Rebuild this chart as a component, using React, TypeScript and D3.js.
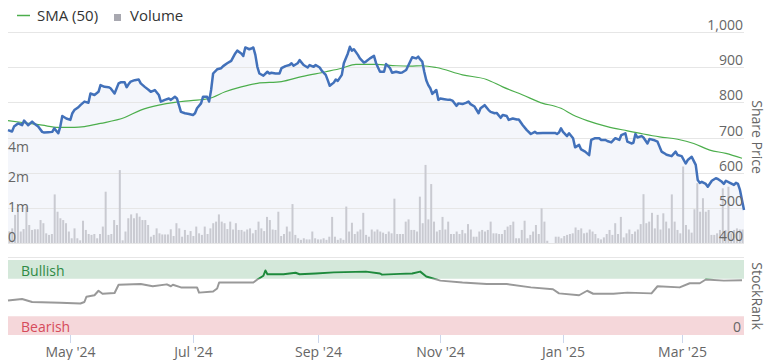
import React from "react";
import * as d3 from "d3";

// ---------- DATA ----------
// day offsets counted from 31 Mar 2024
const priceDays = [0,2,3,5,7,8,10,12,13,15,17,18,20,22,23,25,26,27,29,31,32,33,35,36,38,40,41,43,45,46,48,50,51,53,55,56,58,59,60,61,63,65,66,68,70,71,73,75,76,78,80,81,83,84,85,86,88,90,92,93,94,96,97,99,100,101,102,104,106,107,109,111,113,114,116,117,118,120,121,122,123,124,125,127,129,130,131,133,135,136,138,140,141,142,144,145,147,149,150,152,153,155,156,158,159,160,162,163,164,166,167,169,170,171,172,174,175,177,178,180,182,183,184,185,187,188,190,191,193,195,196,198,200,201,203,204,205,206,207,208,209,210,211,213,214,215,217,219,220,221,223,224,226,228,229,230,232,234,235,237,239,240,242,243,245,246,248,249,251,253,254,256,258,260,262,263,266,269,272,273,274,275,276,278,279,281,282,284,285,287,289,290,292,294,295,297,298,300,302,304,305,307,308,310,311,312,313,315,316,318,319,321,323,324,325,327,328,330,332,333,335,337,338,340,342,343,344,345,347,348,350,352,353,355,356,357,359,361,362,363,364,365,366];
const priceValues = [721,717,731,740,735,748,735,745,740,731,716,714,715,716,726,712,731,761,754,750,769,778,786,792,802,799,825,821,830,849,844,843,840,825,854,857,857,843,852,859,863,865,854,844,835,830,835,821,802,807,811,807,816,811,792,773,769,767,764,769,783,797,816,816,802,835,882,894,897,903,911,918,939,947,939,932,956,951,953,956,935,901,882,876,887,882,884,882,882,897,903,906,911,904,911,920,906,899,906,901,906,899,890,878,863,847,856,865,861,878,911,939,958,947,951,935,925,913,916,925,932,912,899,887,887,909,897,884,887,884,885,892,916,928,925,930,922,916,887,863,849,840,824,835,807,811,809,807,807,805,790,797,795,799,802,795,788,769,783,792,778,773,769,770,756,764,761,750,754,751,751,735,721,710,716,712,713,713,713,710,714,726,716,704,712,698,672,679,666,660,650,693,698,698,693,693,690,686,698,693,707,712,688,683,685,710,700,704,700,683,696,693,688,674,660,653,650,647,660,650,647,626,636,645,622,579,571,574,568,560,577,584,582,574,568,577,571,565,571,568,551,522,494];

const smaDays = [0,8,17,25,33,38,46,58,66,75,83,91,100,108,116,124,136,146,158,166,173,183,193,200,206,213,226,238,246,256,266,272,275,281,288,298,308,316,324,333,341,349,357,365];
const smaValues = [748,742,735,729,729,731,740,757,778,792,800,805,811,830,844,854,859,873,887,897,908,908,904,903,904,899,878,865,844,821,797,789,783,764,748,731,719,710,702,695,683,664,655,641];

const rankDays = [0,7,12,26,36,38,39,43,45,47,53,55,66,72,79,81,82,86,94,95,102,104,105,112,117,122,124,127,128,129,137,143,145,153,162,178,185,186,195,201,205,208,215,226,238,248,260,271,274,284,288,291,301,308,320,323,334,339,344,347,356,365];
const rankValues = [46,48,44,43,42,44,51,53,59,55,56,67,68,65,67.5,65,67,63.5,63.5,56.5,58,62,70,70,70,70,74,79,86,81,81,83,81,82,83.5,84.5,82,80.5,81.5,82,84.5,78,72.5,70,68,68,63.5,61,55.5,53,59,55,55,56.5,55.5,65,63.5,69,69,74,72.5,73];

// daily volume, millions of shares
const volumeValues = [
0.52,0.65,1.25,1.5,0.51,0.62,1.62,0.8,0.58,0.61,0.61,1.02,0.88,0.43,0.36,0.4,2.16,1.39,1.1,1.02,0.88,0.51,0.21,0.65,0.21,0.12,0.99,0.58,0.4,0.36,0.4,0.21,0.4,0.73,2.28,0.36,0.4,1.02,0.8,3.24,0.12,0.51,1.1,1.27,1.1,1.32,1.17,1.02,1.02,0.8,0.28,0.36,0.65,0.43,0.38,0.38,0.38,0.61,0.31,0.88,0.65,0.28,0.58,0.36,0.53,0.31,0.73,0.43,
0.36,0.73,0.4,0.65,0.88,0.95,1.27,0.95,0.88,0.62,0.95,0.6,0.88,0.58,0.58,0.51,0.6,0.65,0.43,0.58,0.95,0.65,0.53,1.16,1.02,0.6,0.58,1.39,0.31,0.4,0.73,0.51,1.73,0.36,0.21,0.14,0.21,0.16,0.16,0.51,0.21,0.16,0.16,0.21,0.14,0.28,1.16,0.28,0.14,0.21,0.14,1.62,0.51,0.9,0.4,0.51,0.6,1.34,0.36,0.28,0.6,0.51,0.6,
0.51,0.46,0.4,0.51,0.43,1.97,0.4,0.4,0.4,0.95,1.05,0.58,0.58,0.51,2.06,0.88,3.47,1.05,2.62,0.95,0.51,0.58,1.16,0.6,0.95,0.4,0.4,0.51,0.4,0.58,0.43,0.84,0.6,0.28,0.28,0.51,0.58,0.51,0.58,0.95,0.43,0.43,0.4,0.4,0.58,0.73,0.8,0.95,0.21,0.21,0.58,0.99,0.21,0.36,0.51,0.8,0.4,1.54,0.95,0.1,0,0,0.28,0.28,
0.21,0.31,0.36,0.4,0.43,0.69,0.58,0.65,0.43,0.46,0.6,0.51,0.4,0.21,0.16,0.25,0.4,0.58,0.36,0.88,0.4,1.16,0.25,0.43,0.6,0.4,0.51,0.6,0.84,2.17,0.88,0.95,1.34,0.65,1.25,0.6,1.32,0.95,0.65,2.16,0.95,0.58,0.43,3.4,0.8,0.6,0.46,1.5,2.66,1.39,1.99,1.39,1.47,0.36,0.36,0.43,0.58,2.43,0.58,2.5,0.43,0.58,0.65,0.6,0.6
];

const priceTicks = [400, 500, 600, 700, 800, 900, 1000];
const volumeTicks = [0, 4 / 3, 8 / 3, 4];
const volumeTickLabels = ["0", "1m", "2m", "4m"];
const xTickDates = ["2024-05-01", "2024-07-01", "2024-09-01", "2024-11-01", "2025-01-01", "2025-03-01"];
const xTickLabels = ["May '24", "Jul '24", "Sep '24", "Nov '24", "Jan '25", "Mar '25"];

// ---------- CHART ----------
const W = 772;
const H = 360;
const START = new Date(2024, 2, 31);
const dayDate = (d: number) => d3.timeDay.offset(START, d);
const parseDate = (s: string) => {
  const [y, m, d] = s.split("-").map(Number);
  return new Date(y, m - 1, d);
};

const FONT = "'Open Sans', 'Noto Sans', sans-serif";
const L = 8, R = 744;

export default function App() {
  const x = d3.scaleTime().domain([START, new Date(2025, 3, 1)]).range([L, R]);
  const xIdx = d3.scaleLinear().domain([0, volumeValues.length]).range([L, R]);
  const py = d3.scaleLinear().domain([400, 1000]).range([243, 32]);
  const vy = d3.scaleLinear().domain([0, 4]).range([243, 153]);
  const ry = d3.scaleLinear().domain([0, 100]).range([335, 260]);

  const price = priceDays.map((d, i) => ({ t: dayDate(d), v: priceValues[i] }));
  const sma = smaDays.map((d, i) => ({ t: dayDate(d), v: smaValues[i] }));
  const rank = rankDays.map((d, i) => ({ t: dayDate(d), v: rankValues[i] }));

  const priceLine = d3.line<any>().x(p => x(p.t)).y(p => py(p.v));
  const priceArea = d3.area<any>().x(p => x(p.t)).y0(py(400)).y1(p => py(p.v));
  const smaLine = d3.line<any>().x(p => x(p.t)).y(p => py(p.v)).curve(d3.curveMonotoneX);
  const rankLine = d3.line<any>().x(p => x(p.t)).y(p => ry(p.v));

  const fmt = d3.format(",");
  const bw = 2;

  return (
    <svg width={W} height={H} style={{ display: "block", position: "absolute", left: 0, top: 0 }} fontFamily={FONT}>
      <rect x={0} y={0} width={W} height={H} fill="#fff" />
      <defs>
        <clipPath id="bull"><rect x={0} y={0} width={W} height={ry(75)} /></clipPath>
        <clipPath id="nonbull"><rect x={0} y={ry(75)} width={W} height={H} /></clipPath>
      </defs>

      {/* legend */}
      <line x1={17} x2={30} y1={15.5} y2={15.5} stroke="#4cae4c" strokeWidth={1.5} />
      <text x={37} y={21} fontSize={15} fill="#333">SMA (50)</text>
      <rect x={114} y={14} width={7} height={7} fill="#a8a8b0" />
      <text x={130} y={21} fontSize={15} fill="#333">Volume</text>

      {/* price area */}
      <path d={priceArea(price) || ""} fill="#f4f6fb" />

      {/* grid */}
      {priceTicks.map(t => (
        <line key={t} x1={L} x2={R} y1={Math.round(py(t)) + 0.5} y2={Math.round(py(t)) + 0.5} stroke="#e6e6e6" strokeWidth={1} />
      ))}

      {/* volume bars */}
      {volumeValues.map((v, i) => (
        <rect key={i} x={xIdx(i + 0.5) - bw / 2} width={bw} y={vy(v)} height={vy(0) - vy(v)} fill="#c9cad1" />
      ))}

      {/* lines */}
      <path d={smaLine(sma) || ""} fill="none" stroke="#4cae4c" strokeWidth={1.2} />
      <path d={priceLine(price) || ""} fill="none" stroke="#4271ba" strokeWidth={2.5} strokeLinejoin="round" />

      {/* price labels */}
      {priceTicks.map(t => (
        <text key={t} x={743} y={py(t) - 2} fontSize={14} fill="#666" textAnchor="end">{fmt(t)}</text>
      ))}
      {volumeTicks.map((t, i) => (
        <text key={i} x={8} y={vy(t) - 1} fontSize={14} fill="#666">{volumeTickLabels[i]}</text>
      ))}
      <text transform="translate(757.5,137) rotate(90)" fontSize={14} fill="#666" textAnchor="middle" dominantBaseline="central">Share Price</text>

      {/* stockrank panel */}
      <line x1={L} x2={R} y1={257.5} y2={257.5} stroke="#e6e6e6" />
      <rect x={L} width={R - L} y={ry(100)} height={ry(75) - ry(100)} fill="#d4e8da" />
      <rect x={L} width={R - L} y={ry(25)} height={ry(0) - ry(25)} fill="#f5d7da" />
      <text x={21} y={276} fontSize={14} fill="#2f8a45">Bullish</text>
      <text x={21} y={332} fontSize={14} fill="#d64b5b">Bearish</text>
      <text x={741} y={332} fontSize={14} fill="#666" textAnchor="end">0</text>
      <path d={rankLine(rank) || ""} fill="none" stroke="#999" strokeWidth={2} clipPath="url(#nonbull)" strokeLinejoin="round" />
      <path d={rankLine(rank) || ""} fill="none" stroke="#1e8a3c" strokeWidth={2} clipPath="url(#bull)" strokeLinejoin="round" />
      <text transform="translate(757.5,296) rotate(90)" fontSize={14} fill="#666" textAnchor="middle" dominantBaseline="central">StockRank</text>

      {/* x axis */}
      {xTickDates.map((s, i) => {
        const xx = Math.round(x(parseDate(s))) + 0.5;
        return (
          <g key={s}>
            <line x1={xx} x2={xx} y1={335} y2={343} stroke="#ccd6eb" />
            <text x={xx} y={357} fontSize={14} fill="#666" textAnchor="middle">{xTickLabels[i]}</text>
          </g>
        );
      })}
    </svg>
  );
}
